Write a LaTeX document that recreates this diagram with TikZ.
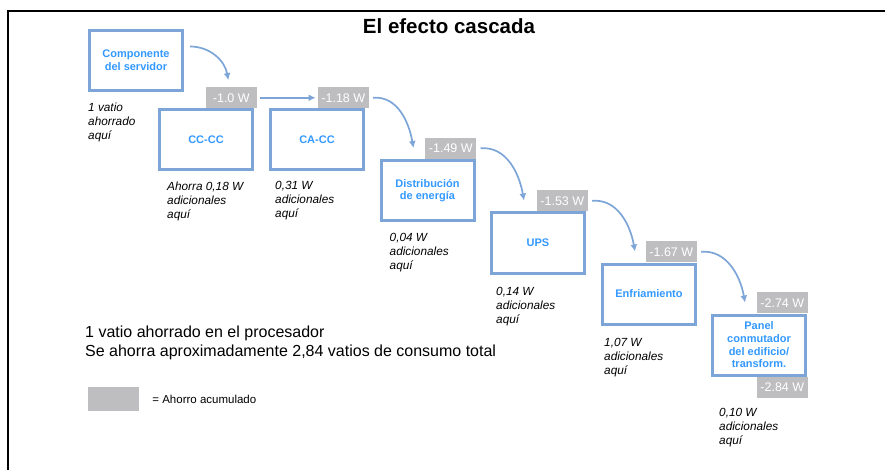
\documentclass[tikz,border=0pt]{standalone}
\usepackage{fontspec}
\setmainfont{Liberation Sans}
\usetikzlibrary{arrows.meta, positioning}
\definecolor{boxblue}{RGB}{125,165,215}
\definecolor{textblue}{RGB}{51,153,255}
\definecolor{savegray}{RGB}{190,190,192}

\begin{document}
\begin{tikzpicture}[x=1pt, y=-1pt, every node/.style={inner sep=0pt}]
    \tikzset{stage/.style={draw=boxblue, line width=3pt, fill=white, minimum width=93pt, minimum height=60pt, align=center, text=textblue, font=\fontsize{11}{12.7}\selectfont\bfseries},
      saved/.style={fill=savegray, text=white, minimum width=51pt, minimum height=21pt, font=\fontsize{12.5}{14}\selectfont},
      note/.style={align=left, font=\fontsize{11.8}{14}\selectfont\itshape},
      flow/.style={draw=boxblue, line width=1.7pt, -{Latex[length=7pt, width=7pt]}}}
    \useasboundingbox (0,0) rectangle (885,470);
    \draw[line width=2pt] (8,470) -- (8,11) -- (885,11);
    \node[font=\fontsize{20.5}{24}\selectfont\bfseries] (title) at (449,26) {El efecto cascada};
    \node[stage] (srv) at (136,60.5) {Componente\\del servidor};
    \node[stage] (cc) at (206,140) {CC-CC};
    \node[stage, right=15pt of cc] (ca) {CA-CC};
    \node[stage] (dist) at (427.5,190.5) {Distribución\\de energía};
    \node[stage] (ups) at (538,243) {UPS};
    \node[stage] (cool) at (649,294) {Enfriamiento};
    \node[stage] (panel) at (759,345) {Panel\\conmutador\\del edificio/\\transform.};
    \node[saved, anchor=south east] (w1) at ([xshift=3pt]cc.north east) {-1.0 W};
    \node[saved, anchor=south east] (w2) at ([xshift=4pt]ca.north east) {-1.18 W};
    \node[saved, anchor=south east] (w3) at ([xshift=1pt]dist.north east) {-1.49 W};
    \node[saved, anchor=south east] (w4) at ([xshift=2pt]ups.north east) {-1.53 W};
    \node[saved, anchor=south east] (w5) at (cool.north east) {-1.67 W};
    \node[saved, anchor=south east] (w6) at ([xshift=1pt]panel.north east) {-2.74 W};
    \node[saved, anchor=north east] (w7) at ([xshift=1pt]panel.south east) {-2.84 W};
    \draw[flow] ([xshift=6pt, yshift=14pt]srv.east) to[out=0, in=100] ([xshift=-3pt, yshift=7pt]w1.north);
    \draw[flow] ([xshift=3pt]w1.east) -- ([xshift=-2pt]w2.west);
    \foreach \a/\b in {w2/dist, w3/ups, w4/cool, w5/panel}
      \draw[flow] ([xshift=4pt]\a.east) to[out=5, in=100] ([xshift=34pt, yshift=11pt]\b.north west);
    \node[note, below right=11pt and 0pt of srv.south west] (n1) {1 vatio\\ahorrado\\aquí};
    \node[note, below right=10pt and 9pt of cc.south west] (n2) {Ahorra 0,18 W\\adicionales\\aquí};
    \node[note, below right=10pt and 6pt of ca.south west] (n3) {0,31 W\\adicionales\\aquí};
    \node[note, below right=11pt and 10pt of dist.south west] (n4) {0,04 W\\adicionales\\aquí};
    \node[note, below right=13pt and 6pt of ups.south west] (n5) {0,14 W\\adicionales\\aquí};
    \node[note, below right=13pt and 3pt of cool.south west] (n6) {1,07 W\\adicionales\\aquí};
    \node[note, below right=32pt and 8pt of panel.south west] (n7) {0,10 W\\adicionales\\aquí};
    \node[anchor=north west, align=left, font=\fontsize{16}{19}\selectfont] (summary) at (85,326) {1 vatio ahorrado en el procesador\\Se ahorra aproximadamente 2,84 vatios de consumo total};
    \node[fill=savegray, minimum width=51pt, minimum height=24pt] (key) at (113.5,399) {};
    \node[right=13pt of key, font=\fontsize{11.5}{13}\selectfont] (keytext) {= Ahorro acumulado};
  \end{tikzpicture}
\end{document}
